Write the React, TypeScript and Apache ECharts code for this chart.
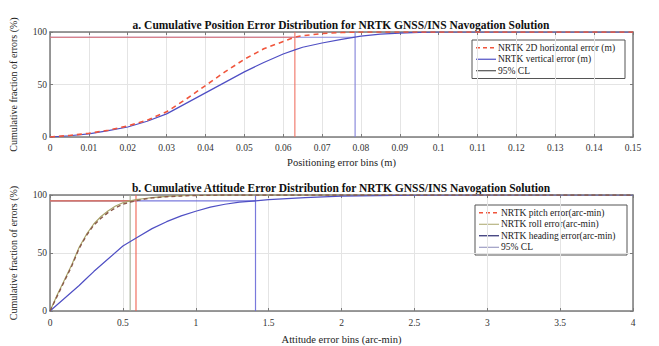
import React, { useEffect, useRef } from "react";
import * as echarts from "echarts";

// ---- Data ----
const posX = [0, 0.005, 0.01, 0.015, 0.02, 0.025, 0.03, 0.035, 0.04, 0.045, 0.05, 0.055, 0.06, 0.063, 0.065, 0.07, 0.075, 0.08, 0.085, 0.09, 0.095, 0.1, 0.15];
const horiz2D = [0, 1.5, 3.5, 6.5, 10.5, 16, 24, 36, 49, 62, 74, 84, 91, 95, 96.5, 98.5, 99.5, 100, 100, 100, 100, 100, 100];
const vertical = [0, 1.2, 3, 6, 9.5, 15, 22, 32, 42, 52, 62, 71, 79, 83, 85.5, 89.5, 93, 96, 98, 99, 99.6, 100, 100];
const posCL = { horiz: 0.063, vert: 0.0785 };

const attX = [0, 0.05, 0.1, 0.15, 0.2, 0.25, 0.3, 0.35, 0.4, 0.45, 0.5, 0.55, 0.59, 0.65, 0.7, 0.8, 0.9, 1.0, 1.2, 1.5, 2, 4];
const pitch = [0, 13, 26, 39, 54, 65, 74, 80, 85, 89, 92, 94, 95, 96.5, 97.5, 98.5, 99.2, 99.6, 100, 100, 100, 100];
const roll = [0, 14, 27, 40, 55, 66, 75, 81.5, 86.5, 90.5, 93.3, 95, 96, 97, 97.8, 98.8, 99.4, 99.8, 100, 100, 100, 100];
const headX = [0, 0.1, 0.2, 0.25, 0.3, 0.4, 0.5, 0.6, 0.7, 0.8, 0.9, 1.0, 1.1, 1.2, 1.3, 1.41, 1.5, 1.75, 2, 2.25, 2.5, 3, 4];
const heading = [0, 11, 22, 28, 34, 45, 56, 63.5, 71, 77, 82, 86, 89.5, 92, 93.8, 95, 96, 97.8, 99, 99.5, 99.8, 100, 100];
const attCL = { pitch: 0.59, roll: 0.55, heading: 1.41 };
const clLevel = 95;

const titleA = "a. Cumulative Position Error Distribution for NRTK GNSS/INS Navogation Solution";
const titleB = "b. Cumulative Attitude Error Distribution for NRTK GNSS/INS Navogation Solution";
const yName = "Cumulative fraction of errors (%)";
const xNameA = "Positioning error bins (m)";
const xNameB = "Attitude error bins (arc-min)";
const namesA = ["NRTK 2D horizontal error (m)", "NRTK vertical error (m)", "95% CL"];
const namesB = ["NRTK pitch error(arc-min)", "NRTK roll error(arc-min)", "NRTK heading error(arc-min)", "95% CL"];

const zip = (xs: number[], ys: number[]) => xs.map((x, i) => [x, ys[i]]);

const FONT = "Liberation Serif";
const RED = "#f0553c";
const BLUE = "#4f4fc4";
const OLIVE = "#a9a56a";
const PITCH_LINE = "#8a5a4a";
const ROLL_CL = "#a0ab92";
const FRAME = "#7a7a7a";

const fmt = (v: number) => String(parseFloat(v.toFixed(3)));

// 95% CL guide: horizontal at 95% from 0 to x, then vertical through x
function clSeries(x: number, color: string, axis: number) {
  return {
    name: "95% CL",
    type: "line",
    xAxisIndex: axis,
    yAxisIndex: axis,
    symbol: "none",
    silent: true,
    z: 1,
    itemStyle: { color },
    lineStyle: { color, width: 1.2, opacity: 0.9 },
    data: [[0, clLevel], [x, clLevel], [x, 100], [x, 0]],
  };
}

type LegendItem = { name: string; color: string; dash?: number[]; width: number };

function legendGraphic(x: number, y: number, w: number, rowH: number, items: LegendItem[]) {
  const h = rowH * items.length + 4;
  const children: any[] = [
    { type: "rect", shape: { x: 0, y: 0, width: w, height: h }, style: { fill: "#fff", stroke: "#555", lineWidth: 1 } },
  ];
  items.forEach((it, i) => {
    const cy = 2 + rowH * i + rowH / 2;
    children.push({
      type: "line",
      shape: { x1: 4, y1: cy, x2: 24, y2: cy },
      style: { stroke: it.color, lineWidth: it.width, lineDash: it.dash || null },
    });
    children.push({
      type: "text",
      x: 26,
      y: cy,
      style: { text: it.name, align: "left", verticalAlign: "middle", font: `9.5px "${FONT}"`, fill: "#222" },
    });
  });
  return { type: "group", x, y, z: 100, children };
}

export default function App() {
  const ref = useRef<HTMLDivElement>(null);
  useEffect(() => {
    if (!ref.current) return;
    const chart = echarts.init(ref.current, undefined, { renderer: "svg" });

    const mainX = (grid: number, max: number, interval: number, name: string, nameGap: number, margin: number) => ({
      type: "value",
      gridIndex: grid,
      min: 0,
      max,
      interval,
      position: "bottom",
      name,
      nameLocation: "middle",
      nameGap,
      nameTextStyle: { fontFamily: FONT, fontSize: 10.5, color: "#222" },
      axisLine: { show: true, onZero: false, lineStyle: { color: FRAME, width: 1.5 } },
      axisTick: { show: true, inside: true, length: 3, lineStyle: { color: FRAME } },
      axisLabel: { fontFamily: FONT, fontSize: 9.5, color: "#333", margin, formatter: (v: number) => fmt(v) },
      splitLine: { show: true, lineStyle: { color: "#e4e4e4", width: 1 } },
    });
    const mirrorX = (grid: number, max: number, interval: number) => ({
      type: "value",
      gridIndex: grid,
      min: 0,
      max,
      interval,
      position: "top",
      axisLine: { show: true, onZero: false, lineStyle: { color: FRAME, width: 1.5 } },
      axisTick: { show: true, inside: true, length: 3, lineStyle: { color: FRAME } },
      axisLabel: { show: false },
      splitLine: { show: false },
    });
    const mainY = (grid: number) => ({
      type: "value",
      gridIndex: grid,
      min: 0,
      max: 100,
      interval: 50,
      position: "left",
      name: yName,
      nameLocation: "middle",
      nameRotate: 90,
      nameGap: 32,
      nameTextStyle: { fontFamily: FONT, fontSize: 10, color: "#222" },
      axisLine: { show: true, onZero: false, lineStyle: { color: FRAME, width: 1.5 } },
      axisTick: { show: true, inside: true, length: 3, lineStyle: { color: FRAME } },
      axisLabel: { fontFamily: FONT, fontSize: 9.5, color: "#333", margin: 3 },
      splitLine: { show: true, lineStyle: { color: "#e4e4e4", width: 1 } },
    });
    const mirrorY = (grid: number) => ({
      type: "value",
      gridIndex: grid,
      min: 0,
      max: 100,
      interval: 50,
      position: "right",
      axisLine: { show: true, onZero: false, lineStyle: { color: FRAME, width: 1.5 } },
      axisTick: { show: true, inside: true, length: 3, lineStyle: { color: FRAME } },
      axisLabel: { show: false },
      splitLine: { show: false },
    });

    const legendA: LegendItem[] = [
      { name: namesA[0], color: RED, dash: [4, 3], width: 1.5 },
      { name: namesA[1], color: BLUE, width: 1.2 },
      { name: namesA[2], color: "#333", width: 1 },
    ];
    const legendB: LegendItem[] = [
      { name: namesB[0], color: RED, dash: [4, 3], width: 1.5 },
      { name: namesB[1], color: OLIVE, width: 1 },
      { name: namesB[2], color: "#2a2a70", width: 1.2 },
      { name: namesB[3], color: "#8a8ab8", width: 1 },
    ];

    chart.setOption({
      animation: false,
      backgroundColor: "#fff",
      grid: [
        { left: 50, right: 26, top: 32, height: 105 },
        { left: 50, right: 26, top: 195, height: 120 },
      ],
      xAxis: [
        mainX(0, 0.15, 0.01, xNameA, 20, 6),
        mirrorX(0, 0.15, 0.01),
        mainX(1, 4, 0.5, xNameB, 23, 7),
        mirrorX(1, 4, 0.5),
      ],
      yAxis: [mainY(0), mirrorY(0), mainY(1), mirrorY(1)],
      graphic: [
        { type: "text", x: 341, y: 25, style: { text: titleA, align: "center", verticalAlign: "middle", font: `bold 11.5px "${FONT}"`, fill: "#111" } },
        { type: "text", x: 341, y: 188, style: { text: titleB, align: "center", verticalAlign: "middle", font: `bold 11.5px "${FONT}"`, fill: "#111" } },
        legendGraphic(472, 40, 153, 11.5, legendA),
        legendGraphic(475, 205, 152, 11.5, legendB),
      ],
      series: [
        clSeries(posCL.vert, "#8080d8", 0),
        clSeries(posCL.horiz, "#f07060", 0),
        {
          name: namesA[0], type: "line", xAxisIndex: 0, yAxisIndex: 0, symbol: "none",
          data: zip(posX, horiz2D), itemStyle: { color: RED }, lineStyle: { color: RED, width: 1.6, type: [5, 4] }, z: 3,
        },
        {
          name: namesA[1], type: "line", xAxisIndex: 0, yAxisIndex: 0, symbol: "none",
          data: zip(posX, vertical), itemStyle: { color: BLUE }, lineStyle: { color: BLUE, width: 1.2 }, z: 2,
        },
        clSeries(attCL.heading, "#6a6ad8", 2),
        clSeries(attCL.roll, ROLL_CL, 2),
        clSeries(attCL.pitch, "#f06050", 2),
        {
          name: namesB[1], type: "line", xAxisIndex: 2, yAxisIndex: 2, symbol: "none",
          data: zip(attX, roll), itemStyle: { color: OLIVE }, lineStyle: { color: OLIVE, width: 1.2 }, z: 2,
        },
        {
          name: namesB[0], type: "line", xAxisIndex: 2, yAxisIndex: 2, symbol: "none",
          data: zip(attX, pitch), itemStyle: { color: RED }, lineStyle: { color: PITCH_LINE, width: 1.4, type: [4, 3] }, z: 3,
        },
        {
          name: namesB[2], type: "line", xAxisIndex: 2, yAxisIndex: 2, symbol: "none",
          data: zip(headX, heading), itemStyle: { color: BLUE }, lineStyle: { color: BLUE, width: 1.2 }, z: 2,
        },
      ],
    });
    return () => chart.dispose();
  }, []);

  return (
    <div
      ref={ref}
      style={{ position: "fixed", left: 0, top: 0, width: 659, height: 346, background: "#fff" }}
    />
  );
}
